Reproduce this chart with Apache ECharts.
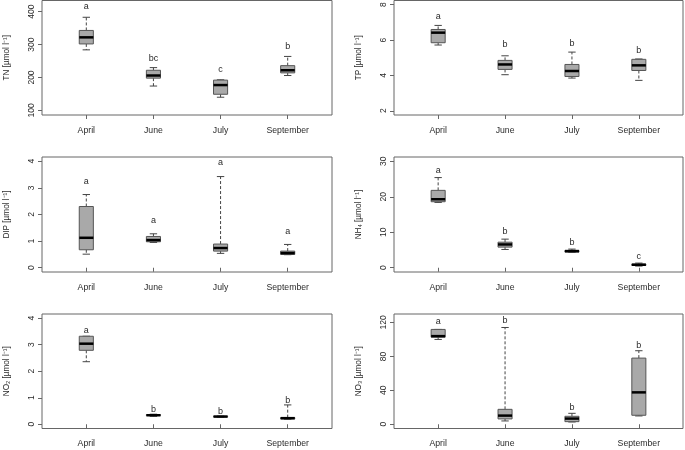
<!DOCTYPE html>
<html><head><meta charset="utf-8">
<script src="https://cdn.jsdelivr.net/npm/echarts@6/dist/echarts.min.js"></script>
<style>html,body{margin:0;padding:0;background:#fff}#c{width:685px;height:450px}</style>
</head><body><div id="c"></div>
<script>
const months = ['April', 'June', 'July', 'September'];
const monthPos = [1, 2, 3, 4];

// each box: [whisker low, Q1, median, Q3, whisker high]
const tnBoxes = [[284, 302, 322, 343, 383], [174, 198, 206, 222, 230], [140, 149, 177, 192, 193], [206, 214, 222, 236, 264]];
const tnLetters = ['a', 'bc', 'c', 'b'];
const tnLetterY = [415, 258, 223, 294];
const tnTicks = [100, 200, 300, 400];

const tpBoxes = [[5.72, 5.85, 6.42, 6.60, 6.83], [4.04, 4.34, 4.62, 4.85, 5.11], [3.85, 3.94, 4.25, 4.62, 5.32], [3.72, 4.28, 4.57, 4.91, 4.93]];
const tpLetters = ['a', 'b', 'b', 'b'];
const tpLetterY = [7.36, 5.75, 5.81, 5.43];
const tpTicks = [2, 4, 6, 8];

const dipBoxes = [[0.51, 0.675, 1.125, 2.30, 2.75], [0.95, 0.975, 1.04, 1.175, 1.275], [0.54, 0.625, 0.74, 0.89, 3.425], [0.49, 0.50, 0.55, 0.625, 0.875]];
const dipLetters = ['a', 'a', 'a', 'a'];
const dipLetterY = [3.24, 1.79, 3.95, 1.36];
const dipTicks = [0, 1, 2, 3, 4];

const nh4Boxes = [[18.4, 18.6, 19.3, 21.8, 25.4], [5.15, 5.81, 6.56, 7.2, 8.06], [4.31, 4.4, 4.69, 4.87, 5.25], [0.47, 0.66, 0.84, 1.03, 1.31]];
const nh4Letters = ['a', 'b', 'b', 'c'];
const nh4LetterY = [27.5, 10.2, 7.1, 3.3];
const nh4Ticks = [0, 10, 20, 30];

const no2Boxes = [[2.36, 2.79, 3.04, 3.32, 3.32], [0.30, 0.33, 0.34, 0.36, 0.38], [0.27, 0.28, 0.29, 0.30, 0.31], [0.19, 0.20, 0.23, 0.25, 0.73]];
const no2Letters = ['a', 'b', 'b', 'b'];
const no2LetterY = [3.53, 0.55, 0.49, 0.88];
const no2Ticks = [0, 1, 2, 3, 4];

const no3Boxes = [[100, 102.7, 103.9, 111.8, 111.8], [3.9, 6.3, 10.2, 17.6, 114.1], [2.7, 3.1, 6.7, 9.4, 12.9], [9.8, 10.6, 37.6, 78, 86.7]];
const no3Letters = ['a', 'b', 'b', 'b'];
const no3LetterY = [120.8, 122, 19.6, 93.3];
const no3Ticks = [0, 40, 80, 120];

const panels = [
  {name: 'TN [µmol l⁻¹]', boxes: tnBoxes, letters: tnLetters, letterY: tnLetterY, ticks: tnTicks, ylim: [86, 434], col: 0, row: 0},
  {name: 'TP [µmol l⁻¹]', boxes: tpBoxes, letters: tpLetters, letterY: tpLetterY, ticks: tpTicks, ylim: [1.76, 8.24], col: 1, row: 0},
  {name: 'DIP [µmol l⁻¹]', boxes: dipBoxes, letters: dipLetters, letterY: dipLetterY, ticks: dipTicks, ylim: [-0.16, 4.16], col: 0, row: 1},
  {name: 'NH₄ [µmol l⁻¹]', boxes: nh4Boxes, letters: nh4Letters, letterY: nh4LetterY, ticks: nh4Ticks, ylim: [-1.2, 31.2], col: 1, row: 1},
  {name: 'NO₂ [µmol l⁻¹]', boxes: no2Boxes, letters: no2Letters, letterY: no2LetterY, ticks: no2Ticks, ylim: [-0.16, 4.16], col: 0, row: 2},
  {name: 'NO₃ [µmol l⁻¹]', boxes: no3Boxes, letters: no3Letters, letterY: no3LetterY, ticks: no3Ticks, ylim: [-5, 130], col: 1, row: 2}
];

const cols = [{left: 42, width: 290}, {left: 394, width: 289}];
const rows = [{top: 0.5, height: 114.5}, {top: 157, height: 115}, {top: 314, height: 114.5}];
const FONT = 'Liberation Sans, Arial, sans-serif';
const TXT = '#2a2a2a';
const LINE = '#555';
const BOXHALF = 0.105;
const STAPLEHALF = 0.055;

const grids = [], xAxes = [], yAxes = [], series = [];
panels.forEach((p, i) => {
  grids.push({left: cols[p.col].left, width: cols[p.col].width, top: rows[p.row].top, height: rows[p.row].height,
    show: true, borderColor: '#666', borderWidth: 1, backgroundColor: 'transparent', outerBoundsMode: 'none', containLabel: false});
  xAxes.push({type: 'value', gridIndex: i, min: 0.34, max: 4.66,
    axisLine: {show: false}, splitLine: {show: false},
    axisTick: {show: true, length: 4, inside: false, customValues: monthPos, lineStyle: {color: '#666'}},
    axisLabel: {customValues: monthPos, margin: 11, fontSize: 8.7, fontFamily: FONT, color: TXT,
      formatter: v => months[Math.round(v) - 1]}});
  yAxes.push({type: 'value', gridIndex: i, min: p.ylim[0], max: p.ylim[1],
    name: p.name, nameLocation: 'middle', nameGap: 31, nameRotate: 90,
    nameTextStyle: {fontSize: 8.2, fontFamily: FONT, color: TXT},
    axisLine: {show: false}, splitLine: {show: false},
    axisTick: {show: true, length: 4, customValues: p.ticks, lineStyle: {color: '#666'}},
    axisLabel: {customValues: p.ticks, rotate: 90, margin: 6, fontSize: 8.5, fontFamily: FONT, color: TXT}});
  const data = p.boxes.map((b, k) => [monthPos[k], b[0], b[1], b[2], b[3], b[4], p.letterY[k]]);
  series.push({type: 'custom', xAxisIndex: i, yAxisIndex: i, data: data, clip: false,
    encode: {x: 0, y: [1, 2, 3, 4, 5, 6]},
    renderItem: (params, api) => {
      const x = api.value(0);
      const lo = api.value(1), q1 = api.value(2), med = api.value(3), q3 = api.value(4), hi = api.value(5), ly = api.value(6);
      const L = api.coord([x - BOXHALF, q3]);
      const R = api.coord([x + BOXHALF, q1]);
      const c = api.coord([x, med]);
      const pLo = api.coord([x, lo]), pHi = api.coord([x, hi]);
      const sL = api.coord([x - STAPLEHALF, lo])[0], sR = api.coord([x + STAPLEHALF, lo])[0];
      const children = [
        {type: 'line', shape: {x1: c[0], y1: L[1], x2: c[0], y2: pHi[1]}, style: {stroke: '#444', lineWidth: 1, lineDash: [3, 2]}},
        {type: 'line', shape: {x1: c[0], y1: R[1], x2: c[0], y2: pLo[1]}, style: {stroke: '#444', lineWidth: 1, lineDash: [3, 2]}},
        {type: 'line', shape: {x1: sL, y1: pHi[1], x2: sR, y2: pHi[1]}, style: {stroke: '#444', lineWidth: 1}},
        {type: 'line', shape: {x1: sL, y1: pLo[1], x2: sR, y2: pLo[1]}, style: {stroke: '#444', lineWidth: 1}},
        {type: 'rect', shape: {x: L[0], y: L[1], width: R[0] - L[0], height: R[1] - L[1]}, style: {fill: '#a9a9a9', stroke: '#555', lineWidth: 1}},
        {type: 'line', shape: {x1: L[0], y1: c[1], x2: R[0], y2: c[1]}, style: {stroke: '#000', lineWidth: 2.5}},
        {type: 'text', x: c[0], y: api.coord([x, ly])[1], style: {text: p.letters[params.dataIndex], fill: TXT, font: '9px ' + FONT, align: 'center', verticalAlign: 'middle'}}
      ];
      return {type: 'group', children: children};
    }
  });
});

const chart = echarts.init(document.getElementById('c'), null, {renderer: 'canvas'});
chart.setOption({animation: false, backgroundColor: '#fff', grid: grids, xAxis: xAxes, yAxis: yAxes, series: series});
</script>
</body></html>
